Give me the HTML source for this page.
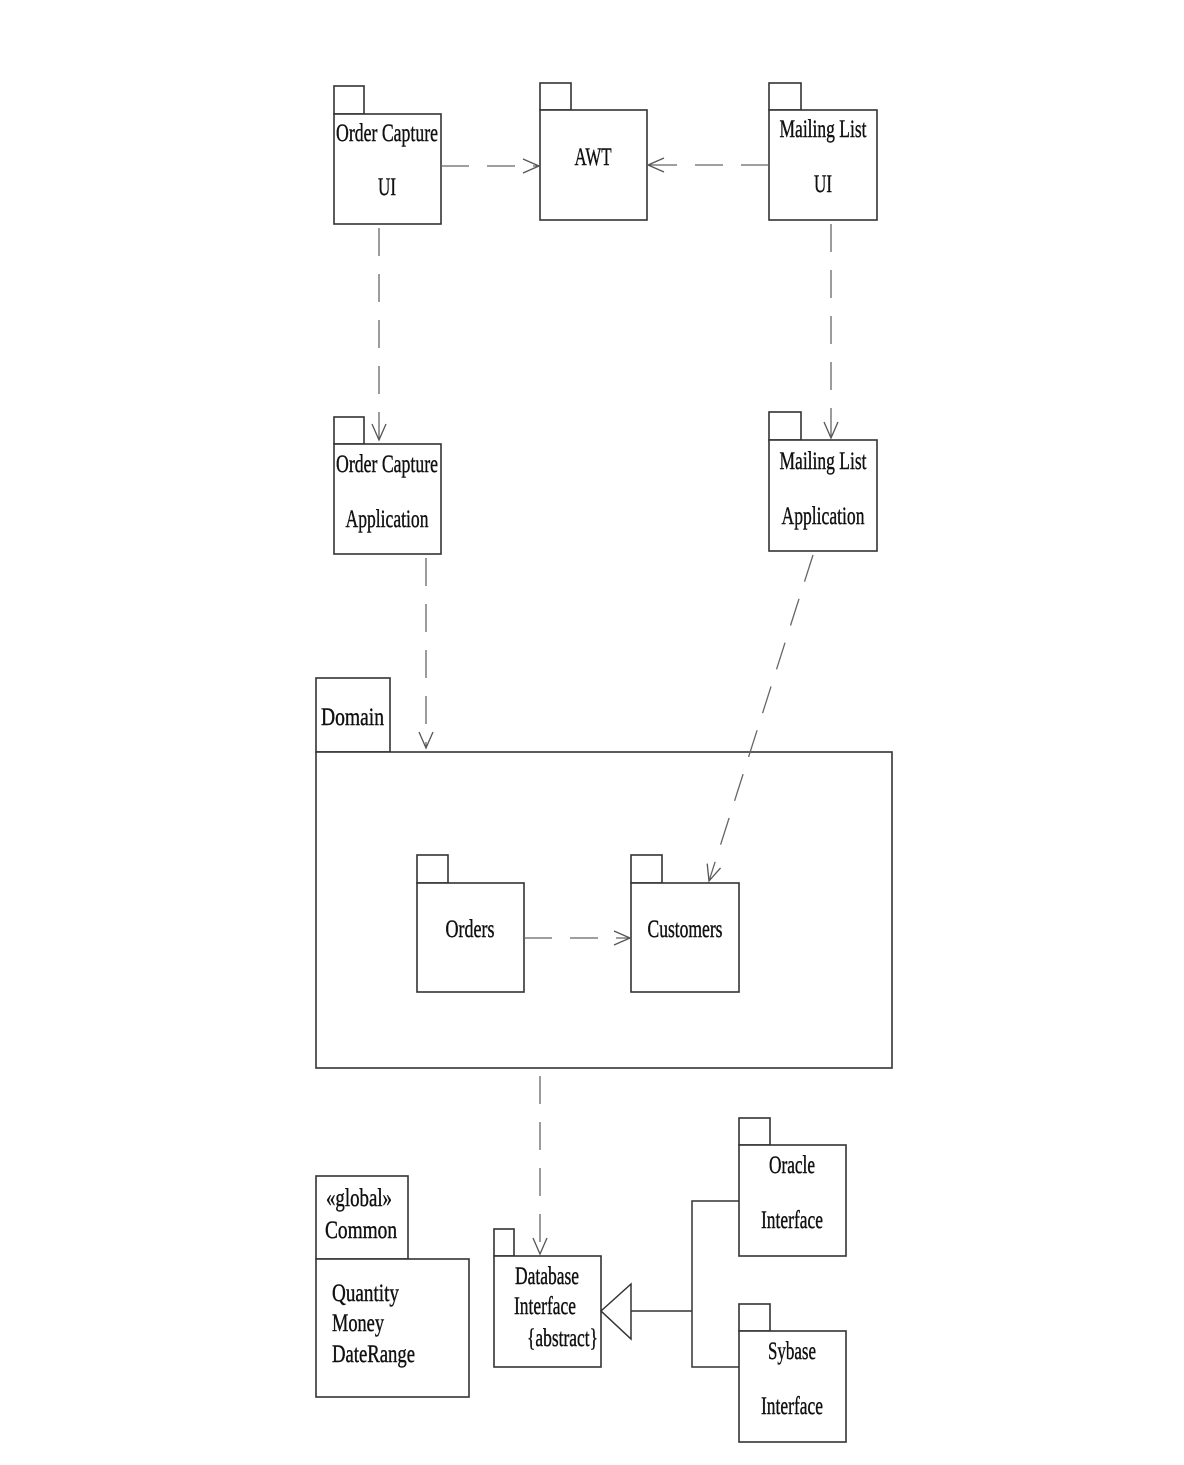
<!DOCTYPE html>
<html><head><style>
html,body{margin:0;padding:0;background:#fff;}
svg text{font-family:"Liberation Serif",serif;font-size:25px;fill:#111;stroke:#111;stroke-width:0.4;}
</style></head><body>
<svg width="1184" height="1460" viewBox="0 0 1184 1460" xmlns="http://www.w3.org/2000/svg">
<defs>
<marker id="a" markerWidth="20" markerHeight="20" refX="18" refY="10" orient="auto" markerUnits="userSpaceOnUse">
<path d="M2,3 L18,10 L2,17" fill="none" stroke="#555" stroke-width="1.3"/>
</marker>
</defs>
<g fill="#fff" stroke="#333" stroke-width="1.6">
<rect x="334" y="86" width="30" height="28"/><rect x="334" y="114" width="107" height="110"/>
<rect x="540" y="83" width="31" height="27"/><rect x="540" y="110" width="107" height="110"/>
<rect x="769" y="83" width="32" height="27"/><rect x="769" y="110" width="108" height="110"/>
<rect x="334" y="417" width="30" height="27"/><rect x="334" y="444" width="107" height="110"/>
<rect x="769" y="412" width="32" height="28"/><rect x="769" y="440" width="108" height="111"/>
<rect x="316" y="678" width="74" height="74"/><rect x="316" y="752" width="576" height="316"/>
<rect x="417" y="855" width="31" height="28"/><rect x="417" y="883" width="107" height="109"/>
<rect x="631" y="855" width="31" height="28"/><rect x="631" y="883" width="108" height="109"/>
<rect x="316" y="1176" width="92" height="83"/><rect x="316" y="1259" width="153" height="138"/>
<rect x="494" y="1229" width="20" height="27"/><rect x="494" y="1256" width="107" height="111"/>
<rect x="739" y="1118" width="31" height="27"/><rect x="739" y="1145" width="107" height="111"/>
<rect x="739" y="1304" width="31" height="27"/><rect x="739" y="1331" width="107" height="111"/>
</g>
<g stroke="#666" stroke-width="1.3" fill="none" stroke-dasharray="28,18">
<line x1="441" y1="166" x2="539" y2="166" marker-end="url(#a)"/>
<line x1="769" y1="165" x2="648" y2="165" marker-end="url(#a)"/>
<line x1="379" y1="228" x2="379" y2="440" marker-end="url(#a)"/>
<line x1="831" y1="224" x2="831" y2="438" marker-end="url(#a)"/>
<line x1="426" y1="558" x2="426" y2="748" marker-end="url(#a)"/>
<line x1="813" y1="555" x2="709" y2="881" marker-end="url(#a)"/>
<line x1="524" y1="938" x2="630" y2="938" marker-end="url(#a)"/>
<line x1="540" y1="1076" x2="540" y2="1254" marker-end="url(#a)"/>
</g>
<g stroke="#333" stroke-width="1.5" fill="#fff">
<polyline points="739,1201 692,1201 692,1367 739,1367" fill="none"/>
<line x1="631" y1="1311" x2="692" y2="1311"/>
<polygon points="601,1311 631,1284 631,1339"/>
</g>
<g text-anchor="middle">
<text x="387" y="141" textLength="102" lengthAdjust="spacingAndGlyphs">Order Capture</text>
<text x="387" y="195" textLength="18" lengthAdjust="spacingAndGlyphs">UI</text>
<text x="593" y="165" textLength="37" lengthAdjust="spacingAndGlyphs">AWT</text>
<text x="823" y="137" textLength="87" lengthAdjust="spacingAndGlyphs">Mailing List</text>
<text x="823" y="192" textLength="18" lengthAdjust="spacingAndGlyphs">UI</text>
<text x="387" y="472" textLength="102" lengthAdjust="spacingAndGlyphs">Order Capture</text>
<text x="387" y="527" textLength="83" lengthAdjust="spacingAndGlyphs">Application</text>
<text x="823" y="469" textLength="87" lengthAdjust="spacingAndGlyphs">Mailing List</text>
<text x="823" y="524" textLength="83" lengthAdjust="spacingAndGlyphs">Application</text>
<text x="470" y="937" textLength="49" lengthAdjust="spacingAndGlyphs">Orders</text>
<text x="685" y="937" textLength="75" lengthAdjust="spacingAndGlyphs">Customers</text>
<text x="792" y="1173" textLength="46" lengthAdjust="spacingAndGlyphs">Oracle</text>
<text x="792" y="1228" textLength="62" lengthAdjust="spacingAndGlyphs">Interface</text>
<text x="792" y="1359" textLength="48" lengthAdjust="spacingAndGlyphs">Sybase</text>
<text x="792" y="1414" textLength="62" lengthAdjust="spacingAndGlyphs">Interface</text>
</g>
<text x="321" y="725" textLength="63" lengthAdjust="spacingAndGlyphs">Domain</text>
<text x="326" y="1206" textLength="66" lengthAdjust="spacingAndGlyphs">«global»</text>
<text x="325" y="1238" textLength="72" lengthAdjust="spacingAndGlyphs">Common</text>
<text x="332" y="1301" textLength="67" lengthAdjust="spacingAndGlyphs">Quantity</text>
<text x="332" y="1331" textLength="52" lengthAdjust="spacingAndGlyphs">Money</text>
<text x="332" y="1362" textLength="83" lengthAdjust="spacingAndGlyphs">DateRange</text>
<text x="515" y="1284" textLength="64" lengthAdjust="spacingAndGlyphs">Database</text>
<text x="514" y="1314" textLength="62" lengthAdjust="spacingAndGlyphs">Interface</text>
<text x="527" y="1346" textLength="71" lengthAdjust="spacingAndGlyphs">{abstract}</text>
</svg>
</body></html>
